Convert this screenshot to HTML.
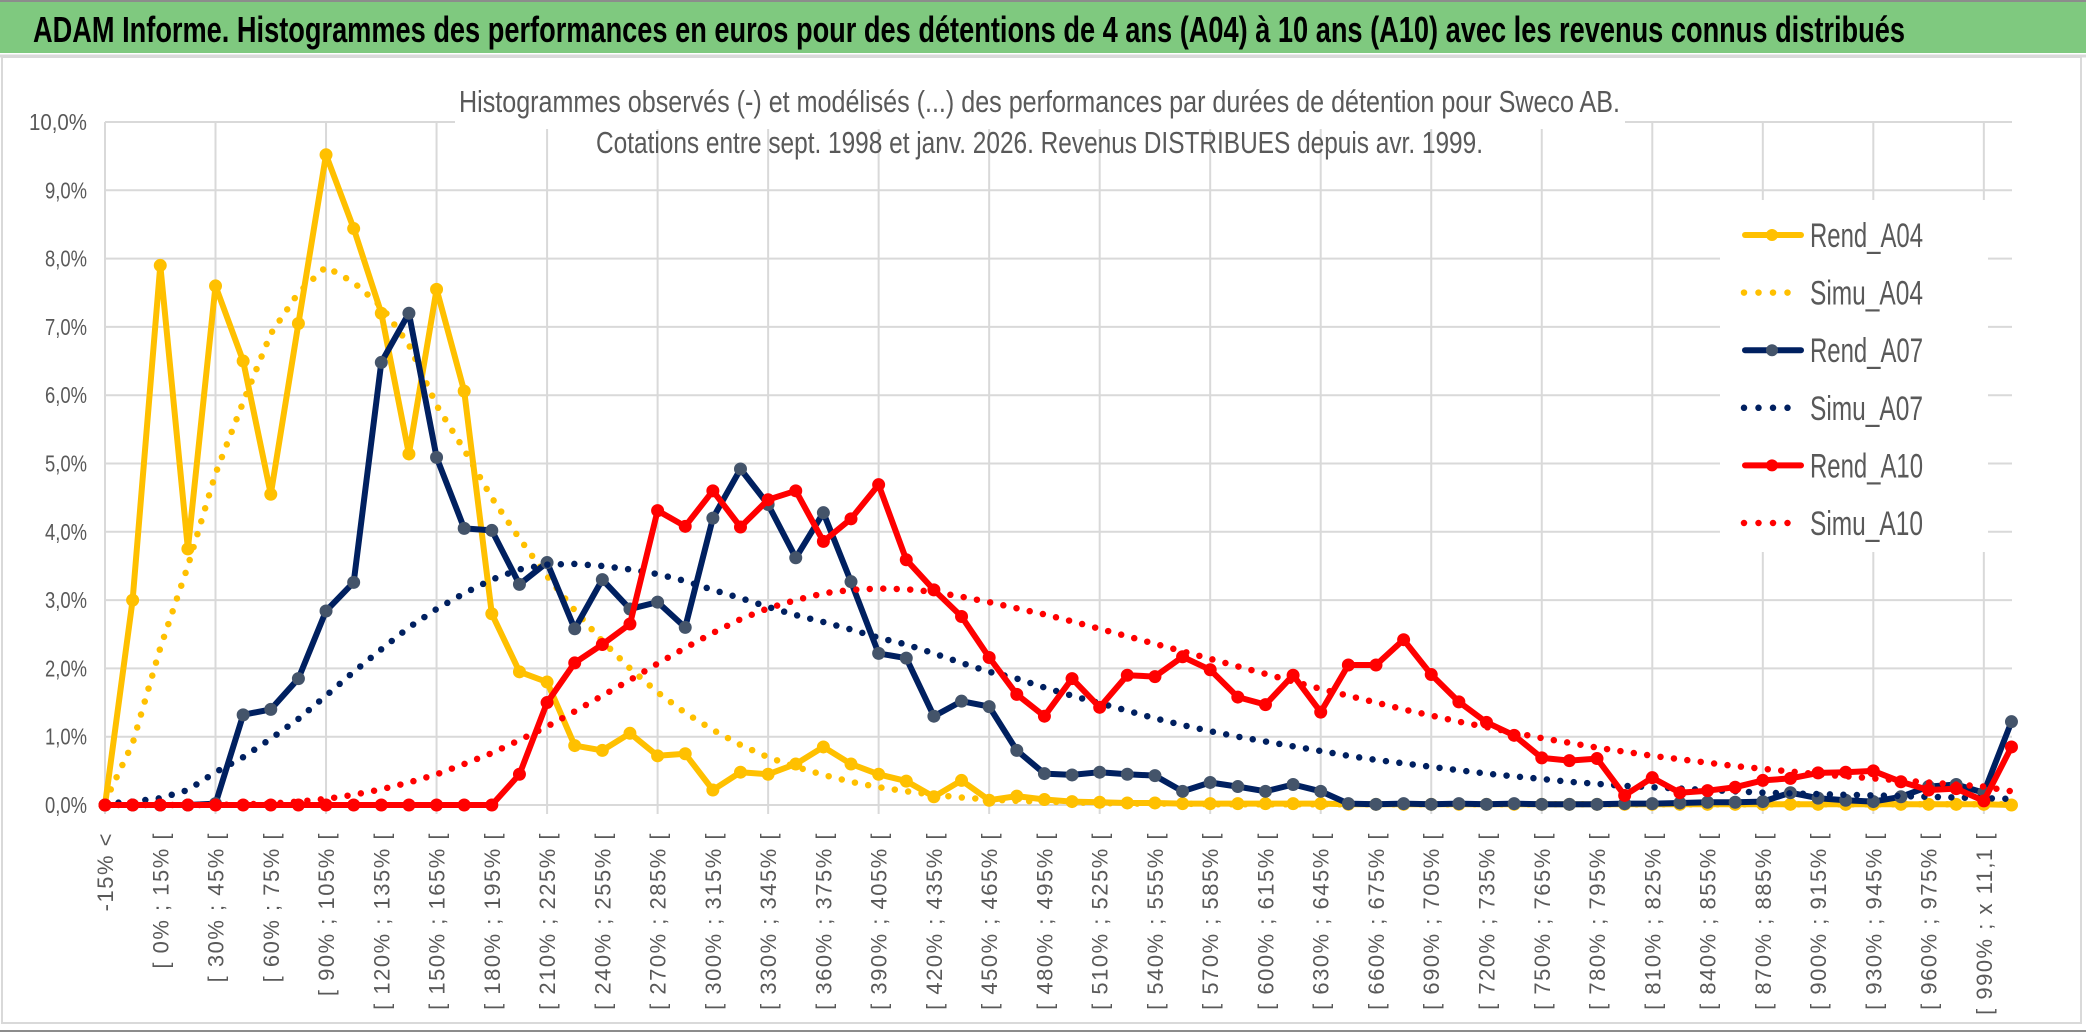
<!DOCTYPE html>
<html><head><meta charset="utf-8"><style>
html,body{margin:0;padding:0;background:#fff;}
svg{display:block;font-family:"Liberation Sans",sans-serif;}
</style></head><body>
<svg id="chart" width="2086" height="1033" viewBox="0 0 2086 1033" xmlns="http://www.w3.org/2000/svg">
<rect x="0" y="0" width="2086" height="1033" fill="#fff"/>
<rect x="2" y="57" width="2079" height="966" fill="none" stroke="#d9d9d9" stroke-width="2"/>
<line x1="0" y1="1031" x2="2086" y2="1031" stroke="#8c8c8c" stroke-width="2"/>
<rect x="0" y="2" width="2086" height="51" fill="#7fc97f"/>
<line x1="0" y1="1" x2="2086" y2="1" stroke="#8c8c8c" stroke-width="2"/>
<line x1="0" y1="56" x2="2086" y2="56" stroke="#d9d9d9" stroke-width="3"/>
<text x="33" y="42" font-size="36" font-weight="bold" fill="#000" textLength="1872" lengthAdjust="spacingAndGlyphs">ADAM Informe. Histogrammes des performances en euros pour des détentions de 4 ans (A04) à 10 ans (A10) avec les revenus connus distribués</text>
<g id="grid"></g>
<rect x="455" y="115" width="1170" height="14" fill="#fff"/>
<text x="459" y="112" font-size="31" fill="#595959" textLength="1161" lengthAdjust="spacingAndGlyphs">Histogrammes observés (-) et modélisés (...) des performances par durées de détention pour Sweco AB.</text>
<text x="596" y="153" font-size="31" fill="#595959" textLength="887" lengthAdjust="spacingAndGlyphs">Cotations entre sept. 1998 et janv. 2026. Revenus DISTRIBUES depuis avr. 1999.</text>
<g id="yaxis"></g>
<g id="xaxis"></g>
<g id="series"></g>
<g id="legend"></g>
</svg>
<script>
var rendA04 = [0,3.0,7.9,3.75,7.6,6.5,4.55,7.05,9.52,8.44,7.2,5.14,7.55,6.06,2.8,1.95,1.8,0.87,0.8,1.05,0.72,0.75,0.22,0.48,0.45,0.6,0.85,0.6,0.45,0.35,0.12,0.36,0.07,0.13,0.08,0.05,0.04,0.03,0.03,0.02,0.02,0.02,0.02,0.02,0.02,0.01,0.01,0.01,0.01,0.01,0.01,0.01,0.01,0.01,0.01,0.01,0.01,0.01,0.01,0.01,0.01,0.01,0.01,0.01,0.01,0.01,0.01,0.01,0.01,0];
var simuA04 = [0.05,0.9,2.3,3.5,4.85,5.9,6.9,7.5,7.88,7.65,7.3,6.74,5.85,5.2,4.5,3.9,3.35,2.85,2.4,2.0,1.65,1.35,1.1,0.88,0.7,0.56,0.44,0.34,0.26,0.2,0.15,0.11,0.08,0.06,0.05,0.04,0.03,0.02,0.02,0.02,0.01,0.01,0.01,0.01,0.01,0.01,0.01,0.01,0.01,0.01,0.01,0.01,0.01,0.01,0.01,0.01,0.01,0.01,0.01,0.01,0.01,0.01,0.01,0.01,0.01,0.01,0.01,0.01,0.01,0.01];
var rendA07 = [0,0,0,0,0.02,1.32,1.4,1.85,2.84,3.26,6.48,7.2,5.09,4.05,4.02,3.23,3.55,2.58,3.3,2.87,2.97,2.6,4.2,4.92,4.4,3.62,4.28,3.27,2.22,2.15,1.3,1.52,1.44,0.8,0.46,0.44,0.48,0.45,0.43,0.2,0.33,0.27,0.2,0.3,0.2,0.02,0.01,0.02,0.01,0.02,0.01,0.02,0.01,0.01,0.01,0.02,0.02,0.03,0.04,0.04,0.05,0.18,0.1,0.07,0.05,0.12,0.27,0.3,0.18,1.22];
var simuA07 = [0.02,0.05,0.1,0.22,0.48,0.7,0.97,1.26,1.6,1.95,2.28,2.6,2.87,3.1,3.3,3.45,3.52,3.53,3.5,3.45,3.38,3.28,3.15,3.03,2.9,2.78,2.68,2.57,2.45,2.35,2.22,2.08,1.95,1.85,1.72,1.6,1.49,1.38,1.27,1.17,1.08,1.0,0.93,0.86,0.79,0.72,0.66,0.61,0.56,0.51,0.46,0.42,0.38,0.34,0.31,0.28,0.26,0.24,0.22,0.2,0.18,0.17,0.16,0.15,0.14,0.13,0.12,0.11,0.1,0.09];
var rendA10 = [0,0,0,0,0,0,0,0,0,0,0,0,0,0,0,0.45,1.5,2.08,2.35,2.65,4.31,4.08,4.6,4.07,4.47,4.6,3.86,4.19,4.69,3.59,3.15,2.76,2.16,1.62,1.3,1.85,1.43,1.9,1.88,2.17,1.98,1.58,1.47,1.9,1.36,2.05,2.05,2.42,1.91,1.51,1.21,1.02,0.69,0.65,0.68,0.14,0.4,0.18,0.21,0.26,0.36,0.39,0.47,0.48,0.5,0.34,0.22,0.24,0.06,0.85];
var simuA10 = [0,0,0,0,0,0.01,0.02,0.05,0.09,0.15,0.23,0.33,0.45,0.6,0.76,0.95,1.15,1.37,1.6,1.83,2.07,2.3,2.52,2.72,2.88,3.0,3.1,3.15,3.17,3.16,3.12,3.05,2.97,2.88,2.79,2.69,2.58,2.47,2.36,2.25,2.14,2.03,1.92,1.81,1.7,1.6,1.5,1.4,1.31,1.22,1.14,1.06,0.98,0.91,0.84,0.78,0.72,0.67,0.62,0.57,0.53,0.49,0.45,0.42,0.39,0.36,0.33,0.3,0.27,0.2];
var yTicks = [0,1,2,3,4,5,6,7,8,9,10];
var yTickLabels = ["0,0%","1,0%","2,0%","3,0%","4,0%","5,0%","6,0%","7,0%","8,0%","9,0%","10,0%"];
var categories = ["-15% <","[ -15% ; 0% ["];
for (var b = 0; b <= 990; b += 15) { categories.push(b === 990 ? "[ 990% ; x 11,1 [" : "[ " + b + "% ; " + (b + 15) + "% ["); }
var seriesNames = ["Rend_A04","Simu_A04","Rend_A07","Simu_A07","Rend_A10","Simu_A10"];

var NS = "http://www.w3.org/2000/svg";
var X0 = 105, DX = 27.63, Y0 = 805, PY = 68.3, XR = 2012;
function xPos(i){ return X0 + i * DX; }
function yPos(v){ return Y0 - v * PY; }
function mk(tag, attrs, parent){ var e = document.createElementNS(NS, tag); for (var k in attrs) e.setAttribute(k, attrs[k]); parent.appendChild(e); return e; }

var grid = document.getElementById("grid");
yTicks.forEach(function(t){
  var l = mk("line", {x1:X0, x2:XR, y1:yPos(t), y2:yPos(t), stroke:"#d9d9d9", "stroke-width":2}, grid);
  
  
});
for (var i = 0; i < categories.length; i += 4) {
  var vl = mk("line", {x1:xPos(i), x2:xPos(i), y1:yPos(10), y2:Y0 + 9, stroke:"#d9d9d9", "stroke-width":2}, grid);
  
  
}

var yaxis = document.getElementById("yaxis");
yTicks.forEach(function(t, k){
  var tx = mk("text", {x:87, y:yPos(t) + 8, "font-size":23, fill:"#595959", "text-anchor":"end", textLength:(t >= 10 ? 58 : 42), lengthAdjust:"spacingAndGlyphs"}, yaxis);
  tx.textContent = yTickLabels[k];
  
  
});

var xaxis = document.getElementById("xaxis");
for (var j = 0; j < categories.length; j += 2) {
  var xx = xPos(j) + 8, yy = 832;
  var lt = mk("text", {x:xx, y:yy, "font-size":22, fill:"#595959", "text-anchor":"end", "letter-spacing":"1.5", transform:"rotate(-90 " + xx + " " + yy + ")"}, xaxis);
  lt.textContent = categories[j];
  
  
}

var sg = document.getElementById("series");
function pts(arr){ return arr.map(function(v, i){ return xPos(i).toFixed(1) + "," + yPos(v).toFixed(1); }).join(" "); }
function drawObserved(arr, color, mfill, name){
  var g = mk("g", {}, sg);
  
  
  var pl = mk("polyline", {points:pts(arr), fill:"none", stroke:color, "stroke-width":6, "stroke-linejoin":"round", "stroke-linecap":"round"}, g);
  
  
  arr.forEach(function(v, i){
    var c = mk("circle", {cx:xPos(i), cy:yPos(v), r:6, fill:mfill, stroke:mfill, "stroke-width":1}, g);
    
    
  });
}
function drawSimu(arr, color, name){
  var pl = mk("polyline", {points:pts(arr), fill:"none", stroke:color, "stroke-width":6.5, "stroke-linecap":"round", "stroke-dasharray":"0 13.5"}, sg);
  
  
}
drawObserved(rendA04, "#FFC000", "#FFC000", "rend-a04");
drawSimu(simuA04, "#FFC000", "simu-a04");
drawObserved(rendA07, "#002060", "#44546A", "rend-a07");
drawSimu(simuA07, "#002060", "simu-a07");
drawObserved(rendA10, "#FF0000", "#FF0000", "rend-a10");
drawSimu(simuA10, "#FF0000", "simu-a10");

var lg = document.getElementById("legend");
var bg = mk("rect", {x:1720, y:200, width:268, height:352, fill:"#fff"}, lg);


var lColors = ["#FFC000","#FFC000","#002060","#002060","#FF0000","#FF0000"];
var lMark = ["#FFC000",null,"#44546A",null,"#FF0000",null];
for (var k = 0; k < seriesNames.length; k++) {
  var cy = 235 + k * 57.6;
  var eg = mk("g", {}, lg);
  
  
  if (lMark[k]) {
    mk("line", {x1:1745, x2:1801, y1:cy, y2:cy, stroke:lColors[k], "stroke-width":6, "stroke-linecap":"round"}, eg);
    mk("circle", {cx:1772, cy:cy, r:6, fill:lMark[k]}, eg);
  } else {
    mk("line", {x1:1744, x2:1800, y1:cy, y2:cy, stroke:lColors[k], "stroke-width":6.5, "stroke-linecap":"round", "stroke-dasharray":"0 14.5"}, eg);
  }
  var lt2 = mk("text", {x:1810, y:cy + 12, "font-size":34, fill:"#595959", textLength:113, lengthAdjust:"spacingAndGlyphs"}, eg);
  lt2.textContent = seriesNames[k];
}
</script>
</body></html>
